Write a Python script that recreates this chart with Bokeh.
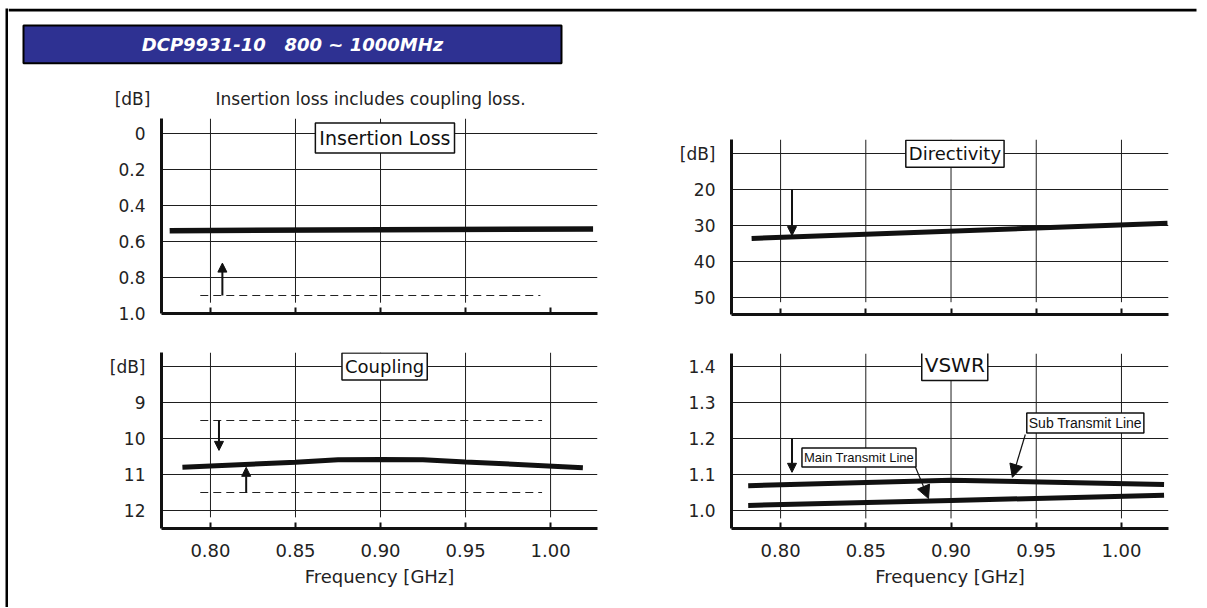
from bokeh.plotting import figure
from bokeh.models import Range1d, FixedTicker, Label, Arrow, NormalHead, ColumnDataSource, Spacer
from bokeh.layouts import column, row
from bokeh.embed import file_html
from bokeh.resources import INLINE

# ---------------- data ----------------
title_text = "DCP9931-10\u00a0\u00a0\u00a0800 ~ 1000MHz"
note_text = "Insertion loss includes coupling loss."
x_axis_title = "Frequency [GHz]"

x_ticks = [0.80, 0.85, 0.90, 0.95, 1.00]
x_tick_labels = ["0.80", "0.85", "0.90", "0.95", "1.00"]

# Insertion loss
il_ticks = [0, 0.2, 0.4, 0.6, 0.8, 1.0]
il_tick_labels = ["0", "0.2", "0.4", "0.6", "0.8", "1.0"]
il_freq = [0.776, 1.025]
il_db = [0.54, 0.53]
il_limit = 0.9
il_limit_freq = [0.794, 0.994]
il_arrow_x = [0.807]
il_arrow_from = [0.9]
il_arrow_to = [0.72]

# Coupling
cp_ticks = [8, 9, 10, 11, 12]
cp_tick_labels = ["[dB]", "9", "10", "11", "12"]
cp_freq = [0.7835, 0.85, 0.875, 0.90, 0.925, 0.95, 1.019]
cp_db = [10.80, 10.66, 10.59, 10.58, 10.59, 10.65, 10.81]
cp_limits = [9.5, 11.5]
cp_limit_freq = [0.794, 0.995]
cp_arrow_x = [0.805, 0.821]
cp_arrow_from = [9.5, 11.5]
cp_arrow_to = [10.33, 10.80]

# Directivity
dir_ticks = [10, 20, 30, 40, 50]
dir_tick_labels = ["[dB]", "20", "30", "40", "50"]
dir_freq = [0.783, 1.027]
dir_db = [33.6, 29.4]
dir_arrow_x = [0.8067]
dir_arrow_from = [20]
dir_arrow_to = [32.8]

# VSWR
vswr_ticks = [1.0, 1.1, 1.2, 1.3, 1.4]
vswr_tick_labels = ["1.0", "1.1", "1.2", "1.3", "1.4"]
sub_freq = [0.781, 0.90, 1.025]
sub_vswr = [1.069, 1.084, 1.072]
main_freq = [0.781, 0.90, 1.025]
main_vswr = [1.014, 1.028, 1.042]
vswr_arrow_x = [0.8067]
vswr_arrow_from = [1.2]
vswr_arrow_to = [1.106]
main_leader = dict(x0=[0.879], y0=[1.122], x1=[0.8868], y1=[1.033])
sub_leader = dict(x0=[0.9436], y0=[1.211], x1=[0.936], y1=[1.092])

# ---------------- style ----------------
FONT = "DejaVu Sans"
NARROW = "Liberation Sans"
INK = "#111111"
GRID = "#1e1e1e"
X_RANGE = (0.7712, 1.0276)


def panel(width, height, borders, y_range, y_ticks, y_labels, grid_x, grid_end, show_x_labels):
    left, right, top, bottom = borders
    p = figure(width=width, height=height, x_range=Range1d(*X_RANGE), y_range=Range1d(*y_range),
               min_border_left=left, min_border_right=right, min_border_top=top,
               min_border_bottom=bottom, toolbar_location=None, output_backend="svg",
               background_fill_color="white", border_fill_color="white")
    p.outline_line_color = None
    p.xgrid.visible = False
    p.ygrid.ticker = FixedTicker(ticks=y_ticks)
    p.ygrid.grid_line_color = GRID
    p.ygrid.grid_line_width = 1
    ytop = y_range[1]
    p.segment(x0=grid_x, y0=[ytop] * len(grid_x), x1=grid_x, y1=[grid_end] * len(grid_x),
              line_color=GRID, line_width=1, level="underlay")

    ya = p.yaxis[0]
    ya.ticker = FixedTicker(ticks=y_ticks)
    ya.major_label_overrides = dict(zip(y_ticks, y_labels))
    ya.axis_line_width = 3
    ya.axis_line_color = INK
    ya.major_tick_line_color = None
    ya.minor_tick_line_color = None
    ya.major_label_standoff = 10
    ya.major_label_text_font = FONT
    ya.major_label_text_font_size = "17px"
    ya.major_label_text_color = "#222222"

    xa = p.xaxis[0]
    xa.ticker = FixedTicker(ticks=x_ticks)
    xa.axis_line_width = 3
    xa.axis_line_color = INK
    xa.major_tick_in = 6
    xa.major_tick_out = 0
    xa.major_tick_line_width = 2
    xa.major_tick_line_color = INK
    xa.minor_tick_line_color = None
    xa.major_label_text_font = FONT
    if show_x_labels:
        xa.major_label_overrides = dict(zip(x_ticks, x_tick_labels))
        xa.major_label_text_color = "#222222"
        xa.major_label_text_font_size = "18px"
        xa.major_label_standoff = 15
        xa.axis_label = x_axis_title
        xa.axis_label_text_font = FONT
        xa.axis_label_text_font_size = "18px"
        xa.axis_label_text_font_style = "normal"
        xa.axis_label_text_color = "#222222"
        xa.axis_label_standoff = 6
    else:
        # the upper panels carry tick marks only
        xa.major_label_text_color = None
        xa.major_label_text_font_size = "8px"
        xa.major_label_standoff = 0
    return p


def box_label(p, text, x, y, size, font=FONT, pad=3):
    p.add_layout(Label(x=x, y=y, text=text, text_align="center", text_baseline="middle",
                       text_font=font, text_font_size=size, text_color=INK,
                       background_fill_color="white", border_line_color=INK,
                       border_line_width=1.5, padding=pad))


def arrows(p, xs, y0, y1, size=9, width=2):
    src = ColumnDataSource(dict(x0=xs, y0=y0, x1=xs, y1=y1))
    p.add_layout(Arrow(end=NormalHead(size=size, fill_color=INK, line_color=INK),
                       x_start="x0", y_start="y0", x_end="x1", y_end="y1",
                       line_color=INK, line_width=width, source=src))


LW, RW = 642, 556
TOP_H, BOT_H = 223, 272
RULE = 3
# ---------------- header (page rule, banner, note) ----------------
HW, HH = LW + RW, 101 + RULE
hdr = figure(width=HW, height=HH, x_range=Range1d(0, HW), y_range=Range1d(HH, 0),
             x_axis_type=None, y_axis_type=None, min_border=0, toolbar_location=None,
             output_backend="svg")
hdr.outline_line_color = None
hdr.grid.visible = False
hdr.quad(left=[0], right=[HW - 10], top=[0], bottom=[RULE], fill_color="black", line_color=None)
hdr.quad(left=[15], right=[553], top=[RULE + 14], bottom=[RULE + 51.7], fill_color="#2E3192",
         line_color="black", line_width=2)
hdr.add_layout(Label(x=284, y=RULE + 33, text=title_text, text_align="center",
                     text_baseline="middle", text_font=FONT, text_font_size="18px",
                     text_font_style="bold italic", text_color="white"))
hdr.add_layout(Label(x=124, y=RULE + 87, text="[dB]", text_align="center", text_baseline="middle",
                     text_font=FONT, text_font_size="17px", text_color="#222222"))
hdr.add_layout(Label(x=207, y=RULE + 87, text=note_text, text_align="left", text_baseline="middle",
                     text_font=FONT, text_font_size="17px", text_color="#222222"))

# ---------------- Insertion loss ----------------
tl = panel(LW, TOP_H, (153, 53, 6, 22), (1.0, -0.0833), il_ticks, il_tick_labels,
           x_ticks[:4], 0.94, False)
tl.line(il_limit_freq, [il_limit, il_limit], line_color="#222222", line_width=1.2, line_dash="8 5")
tl.line(il_freq, il_db, line_color=INK, line_width=5.5)
arrows(tl, il_arrow_x, il_arrow_from, il_arrow_to)
box_label(tl, "Insertion Loss", 0.9026, 0.025, "19px", pad=4)

# ---------------- Coupling ----------------
bl = panel(LW, BOT_H, (153, 53, 17, 79), (12.5, 7.611), cp_ticks, cp_tick_labels,
           x_ticks, 12.19, True)
for lim in cp_limits:
    bl.line(cp_limit_freq, [lim, lim], line_color="#222222", line_width=1.2, line_dash="8 5")
bl.line(cp_freq, cp_db, line_color=INK, line_width=5)
arrows(bl, cp_arrow_x, cp_arrow_from, cp_arrow_to)
box_label(bl, "Coupling", 0.9024, 8.0, "18px")

# ---------------- Directivity ----------------
tr = panel(RW, TOP_H, (81, 38, 27, 21), (54.72, 6.11), dir_ticks, dir_tick_labels,
           x_ticks, 51.3, False)
tr.line(dir_freq, dir_db, line_color=INK, line_width=5)
arrows(tr, dir_arrow_x, dir_arrow_from, dir_arrow_to)
box_label(tr, "Directivity", 0.9023, 10.05, "18px")

# ---------------- VSWR ----------------
br = panel(RW, BOT_H, (81, 38, 18, 79), (0.95, 1.436), vswr_ticks, vswr_tick_labels,
           x_ticks, 0.978, True)
br.line(sub_freq, sub_vswr, line_color=INK, line_width=5)
br.line(main_freq, main_vswr, line_color=INK, line_width=5)
arrows(br, vswr_arrow_x, vswr_arrow_from, vswr_arrow_to)
box_label(br, "VSWR", 0.9022, 1.403, "20px")
for ld in (main_leader, sub_leader):
    br.add_layout(Arrow(end=NormalHead(size=13, fill_color=INK, line_color=INK),
                        x_start="x0", y_start="y0", x_end="x1", y_end="y1",
                        line_color=INK, line_width=1.2, source=ColumnDataSource(ld)))
box_label(br, "Main Transmit Line", 0.846, 1.147, "13px", NARROW, pad=2)
box_label(br, "Sub Transmit Line", 0.9788, 1.243, "14px", NARROW, pad=2)

# ---------------- left page rule ----------------
FULL_H = HH + TOP_H + BOT_H
rule = figure(width=RULE, height=FULL_H, x_axis_type=None, y_axis_type=None, min_border=0,
              toolbar_location=None, output_backend="svg",
              background_fill_color="black", border_fill_color="black")
rule.outline_line_color = None
rule.grid.visible = False

content = column(hdr, row(column(tl, bl), column(tr, br)))
layout = column(Spacer(width=5 + RULE + HW, height=8),
                row(Spacer(width=5, height=FULL_H), rule, content))

open("out.html", "w").write(file_html(layout, INLINE))
